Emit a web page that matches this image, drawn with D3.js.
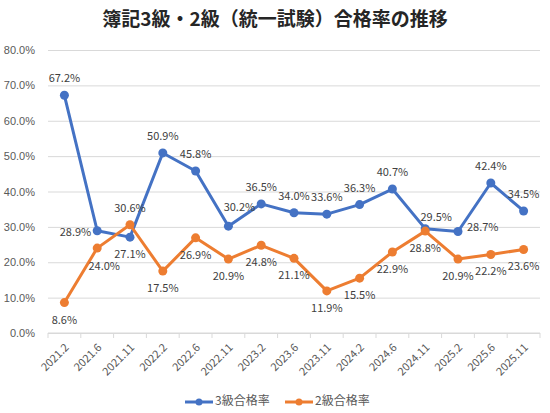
<!DOCTYPE html>
<html>
<head>
<meta charset="utf-8">
<script src="https://cdn.jsdelivr.net/npm/d3@7"></script>
<style>
  body { margin: 0; background: #fff; }
  svg { font-family: "Noto Sans CJK JP", "Noto Sans", sans-serif; }
</style>
</head>
<body>
<svg id="chart" width="550" height="413"></svg>
<script>
// exam sessions
const sessions = ["2021.2", "2021.6", "2021.11", "2022.2", "2022.6", "2022.11", "2023.2", "2023.6",
  "2023.11", "2024.2", "2024.6", "2024.11", "2025.2", "2025.6", "2025.11"];

// pass rates (%)
const grade3 = [67.2, 28.9, 27.1, 50.9, 45.8, 30.2, 36.5, 34.0, 33.6, 36.3, 40.7, 29.5, 28.7, 42.4, 34.5];
const grade2 = [8.6, 24.0, 30.6, 17.5, 26.9, 20.9, 24.8, 21.1, 11.9, 15.5, 22.9, 28.8, 20.9, 22.2, 23.6];

const yTicks = [0, 10, 20, 30, 40, 50, 60, 70, 80];

// where each data label sits relative to its point
const grade3LabelPos = ["t", "l", "b", "t", "t", "tr", "t", "t", "t", "t", "t", "rt", "r", "t", "t"];
const grade2LabelPos = ["b", "br", "t", "b", "b", "b", "b", "b", "b", "b", "b", "b", "b", "b", "b"];

const seriesNames = ["3級合格率", "2級合格率"];
const colors = ["#4472C4", "#ED7D31"];

const svg = d3.select("#chart");
svg.append("rect").attr("width", 550).attr("height", 413).attr("fill", "#fff");

const x = d3.scaleBand().domain(sessions).range([48, 540]).padding(0);
const y = d3.scaleLinear().domain([0, 80]).range([333, 50]);

// title
svg.append("text")
  .attr("x", 275).attr("y", 21)
  .attr("text-anchor", "middle")
  .attr("dominant-baseline", "middle")
  .style("font-size", "19px")
  .style("font-weight", "bold")
  .attr("fill", "#262626")
  .text("簿記3級・2級（統一試験）合格率の推移");

// gridlines + y labels
const yAxis = d3.axisLeft(y).tickValues(yTicks)
  .tickSize(-(540 - 48))
  .tickFormat(d => d.toFixed(1) + "%");
const gy = svg.append("g").attr("transform", "translate(48,0)").call(yAxis);
gy.select(".domain").remove();
gy.selectAll(".tick line").attr("stroke", "#d9d9d9").attr("stroke-width", 1);
gy.selectAll(".tick text")
  .attr("x", -13)
  .attr("fill", "#595959")
  .style("font-size", "11px");

// category axis
svg.append("line")
  .attr("x1", 48).attr("x2", 540)
  .attr("y1", y(0)).attr("y2", y(0))
  .attr("stroke", "#d9d9d9");
const bounds = sessions.map(s => x(s)).concat([x(sessions[sessions.length - 1]) + x.bandwidth()]);
svg.selectAll(".xtick").data(bounds).enter().append("line")
  .attr("x1", d => d).attr("x2", d => d)
  .attr("y1", y(0)).attr("y2", y(0) + 5)
  .attr("stroke", "#d9d9d9");
svg.selectAll(".xlabel").data(sessions).enter().append("text")
  .attr("transform", d => `translate(${x(d) + x.bandwidth() / 2 + 3},${y(0) + 13}) rotate(-45)`)
  .attr("text-anchor", "end")
  .attr("dominant-baseline", "middle")
  .attr("fill", "#595959")
  .style("font-size", "11px")
  .text(d => d);

const cx = d => x(d) + x.bandwidth() / 2;

function drawSeries(values, color, labelPos) {
  const pts = values.map((v, i) => ({ s: sessions[i], v: v, pos: labelPos[i] }));
  const line = d3.line().x(d => cx(d.s)).y(d => y(d.v));
  svg.append("path")
    .datum(pts)
    .attr("d", line)
    .attr("fill", "none")
    .attr("stroke", color)
    .attr("stroke-width", 3)
    .attr("stroke-linejoin", "round");
  svg.append("g").selectAll("circle").data(pts).enter().append("circle")
    .attr("cx", d => cx(d.s)).attr("cy", d => y(d.v))
    .attr("r", 4.5)
    .attr("fill", color);
  return pts;
}

function drawLabels(pts) {
  const off = {
    t: [0, -16, "middle"], b: [0, 18, "middle"], l: [-6, 2, "end"],
    r: [9, -3, "start"], tr: [11, -18, "middle"], rt: [11, -11, "middle"],
    br: [7, 19, "middle"]
  };
  svg.append("g").selectAll("text").data(pts).enter().append("text")
    .attr("x", d => cx(d.s) + off[d.pos][0])
    .attr("y", d => y(d.v) + off[d.pos][1])
    .attr("text-anchor", d => off[d.pos][2])
    .attr("dominant-baseline", "middle")
    .attr("fill", "#404040")
    .style("font-size", "11px")
    .text(d => d.v.toFixed(1) + "%");
}

const p3 = drawSeries(grade3, colors[0], grade3LabelPos);
const p2 = drawSeries(grade2, colors[1], grade2LabelPos);
drawLabels(p3);
drawLabels(p2);

// legend
const legendX = [185, 285];
seriesNames.forEach((name, i) => {
  const g = svg.append("g").attr("transform", `translate(${legendX[i]},402)`);
  g.append("line").attr("x1", 0).attr("x2", 28).attr("stroke", colors[i]).attr("stroke-width", 3);
  g.append("circle").attr("cx", 14).attr("r", 3.5).attr("fill", colors[i]);
  g.append("text").attr("x", 30).attr("dominant-baseline", "middle")
    .attr("fill", "#595959").style("font-size", "12px").text(name);
});
</script>
</body>
</html>
